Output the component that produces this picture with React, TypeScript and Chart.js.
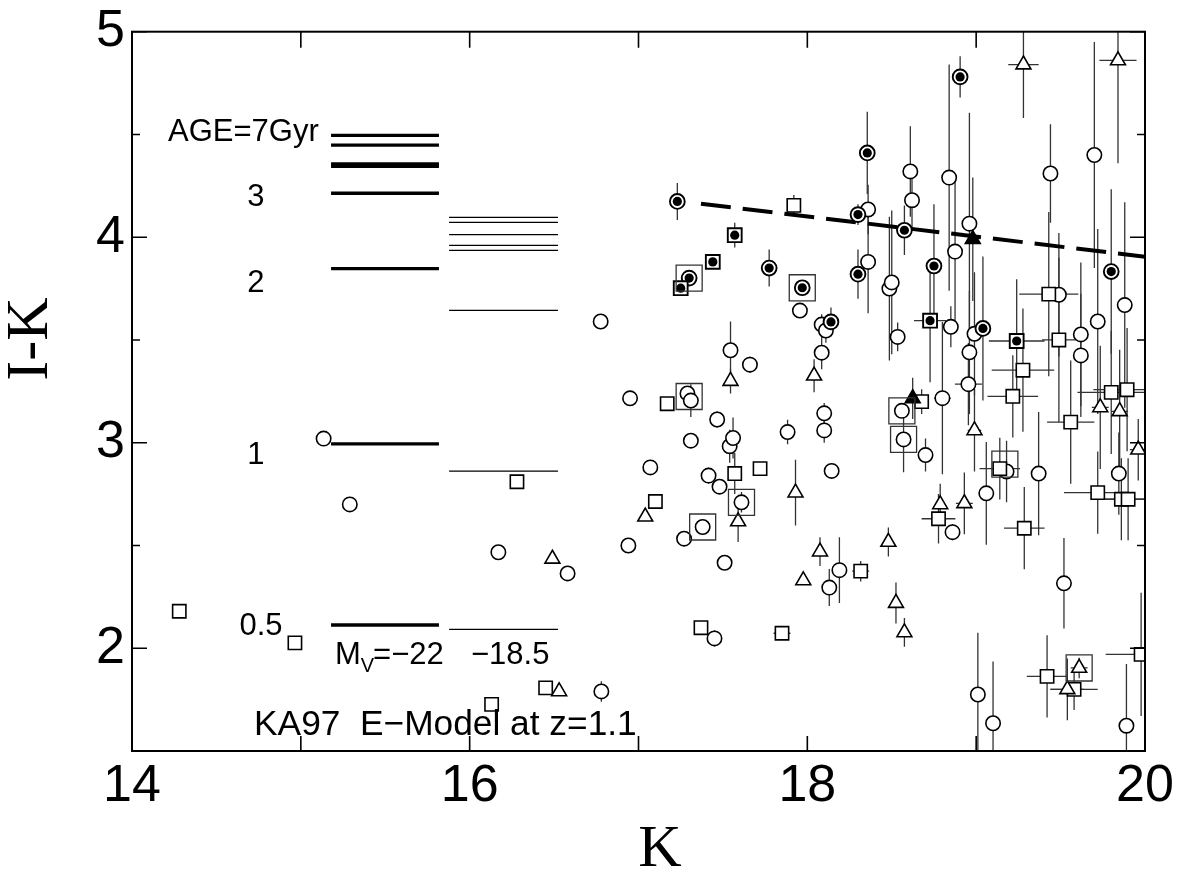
import React, { useEffect, useRef } from "react";
import { Chart, registerables } from "chart.js";

Chart.register(...registerables);

const SANS = '"Liberation Sans", Arial, Helvetica, sans-serif';
const SERIF = '"Liberation Serif", "Times New Roman", Times, serif';

// Each row: [K, I-K, error in K, error in I-K]
const openCircles: number[][] = [
  [15.135, 3.02, 0, 0], [15.29, 2.7, 0, 0], [16.17, 2.467, 0, 0], [16.58, 2.364, 0, 0],
  [16.78, 1.79, 0, 0.05], [16.776, 3.59, 0, 0.02], [16.95, 3.216, 0, 0], [16.94, 2.5, 0, 0],
  [17.07, 2.88, 0, 0], [17.27, 2.533, 0, 0], [17.29, 3.24, 0, 0.03], [17.31, 3.205, 0, 0.08],
  [17.31, 3.01, 0, 0], [17.38, 2.59, 0, 0], [17.415, 2.84, 0, 0.04], [17.45, 2.048, 0, 0.04],
  [17.466, 3.113, 0, 0.04], [17.48, 2.786, 0, 0], [17.51, 2.416, 0, 0], [17.545, 3.45, 0, 0.14],
  [17.54, 2.983, 0, 0.08], [17.56, 3.023, 0, 0.1], [17.61, 2.71, 0, 0.05], [17.66, 3.38, 0, 0.04],
  [17.883, 3.052, 0, 0.06], [17.956, 3.643, 0, 0], [18.085, 3.575, 0, 0.05], [18.11, 3.546, 0, 0.06],
  [18.085, 3.438, 0, 0.08], [18.1, 3.143, 0, 0.05], [18.1, 3.06, 0, 0.06], [18.144, 2.863, 0, 0],
  [18.13, 2.295, 0, 0.09], [18.19, 2.38, 0, 0.16], [18.36, 4.135, 0, 0.12], [18.36, 3.88, 0, 0.25],
  [18.486, 3.75, 0, 0.35], [18.5, 3.78, 0, 0.35], [18.535, 3.515, 0, 0.07], [18.56, 3.155, 0, 0],
  [18.57, 3.016, 0, 0.16], [18.61, 4.32, 0, 0.22], [18.62, 4.18, 0, 0.15], [18.7, 2.94, 0, 0.08],
  [18.8, 3.217, 0.05, 0.37], [18.84, 4.29, 0, 0.55], [18.85, 3.564, 0, 0.1], [18.86, 2.565, 0, 0.04],
  [18.875, 3.93, 0, 0.35], [18.954, 3.285, 0.08, 0.2], [18.96, 3.44, 0, 0.3], [18.96, 4.066, 0, 0.54],
  [18.99, 3.53, 0, 0.3], [19.01, 1.775, 0, 0.3], [19.06, 2.754, 0, 0.25], [19.1, 1.635, 0, 0.3],
  [19.18, 2.86, 0, 0.15], [19.37, 2.85, 0, 0.3], [19.44, 4.31, 0, 0.24], [19.49, 3.72, 0, 0.3],
  [19.52, 2.316, 0, 0.22], [19.62, 3.527, 0, 0.35], [19.62, 3.425, 0, 0.3], [19.7, 4.4, 0, 0.55],
  [19.72, 3.59, 0, 0.45], [19.845, 2.85, 0, 0.2], [19.88, 3.67, 0, 0.5], [19.89, 1.623, 0, 0.3],
];

const dotCircles: number[][] = [
  [17.23, 4.174, 0, 0.09], [17.3, 3.801, 0, 0], [17.774, 3.85, 0, 0.09], [17.97, 3.754, 0, 0],
  [18.14, 3.588, 0, 0.07], [18.3, 4.11, 0, 0.05], [18.3, 3.82, 0, 0.12], [18.355, 4.41, 0, 0.2],
  [18.575, 4.034, 0, 0.12], [18.75, 3.86, 0, 0.3], [18.905, 4.78, 0, 0.1], [19.04, 3.556, 0, 0.35],
  [19.8, 3.833, 0, 0.4],
];

const dotSquares: number[][] = [
  [17.25, 3.752, 0, 0.02], [17.44, 3.88, 0, 0.03], [17.57, 4.01, 0, 0.06],
  [18.727, 3.594, 0.095, 0.3], [19.24, 3.495, 0.165, 0.3],
];

const openSquares: number[][] = [
  [14.28, 2.18, 0, 0], [14.965, 2.026, 0, 0], [16.13, 1.727, 0, 0], [16.28, 2.81, 0, 0],
  [16.45, 1.807, 0, 0], [17.1, 2.714, 0, 0], [17.17, 3.19, 0, 0.03], [17.37, 2.1, 0.04, 0.03],
  [17.57, 2.85, 0, 0.1], [17.72, 2.874, 0.04, 0.03], [17.85, 2.073, 0.05, 0], [17.92, 4.155, 0.03, 0.05],
  [18.316, 2.375, 0.05, 0.05], [18.677, 3.2, 0, 0.06], [18.777, 2.63, 0.1, 0.12], [19.14, 2.874, 0.12, 0.15],
  [19.217, 3.226, 0.15, 0.2], [19.277, 3.353, 0.185, 0.3], [19.285, 2.584, 0.12, 0.2], [19.42, 1.863, 0.12, 0.2],
  [19.43, 3.723, 0.175, 0.4], [19.49, 3.5, 0.1, 0.4], [19.56, 3.1, 0.14, 0.3], [19.58, 1.8, 0.14, 0.1],
  [19.72, 2.757, 0.2, 0.2], [19.8, 3.245, 0.2, 0.3], [19.86, 2.725, 0.15, 0.2], [19.894, 3.258, 0.2, 0.3],
  [19.9, 2.725, 0.15, 0.2], [19.977, 1.97, 0.21, 0.3],
];

const openTriangles: number[][] = [
  [16.49, 2.435, 0, 0], [16.53, 1.79, 0, 0], [17.04, 2.64, 0, 0.02], [17.545, 3.3, 0, 0.06],
  [17.59, 2.617, 0, 0.1], [17.93, 2.757, 0, 0.16], [17.976, 2.33, 0, 0.02], [18.04, 3.326, 0, 0.08],
  [18.075, 2.47, 0, 0.07], [18.48, 2.517, 0, 0.07], [18.525, 2.22, 0, 0.1], [18.575, 2.077, 0, 0.07],
  [18.787, 2.7, 0, 0.1], [18.93, 2.705, 0.05, 0.15], [18.99, 3.06, 0.04, 0.2], [19.28, 4.84, 0.09, 0.26],
  [19.54, 1.8, 0.1, 0.15], [19.61, 1.904, 0.05, 0.05], [19.735, 3.172, 0.05, 0.3], [19.84, 4.86, 0.11, 0.5],
  [19.85, 3.153, 0.05, 0.3], [19.96, 2.966, 0.05, 0.15],
];

const filledTriangles: number[][] = [
  [18.624, 3.216, 0, 0.1], [18.98, 3.99, 0, 0.3],
];

// [K, I-K] of the objects enclosed by a large box
const boxedPoints: number[][] = [
  [17.3, 3.801], [17.97, 3.754], [17.3, 3.225], [17.38, 2.59], [17.61, 2.71],
  [18.56, 3.155], [18.57, 3.016], [19.17, 2.896], [19.61, 1.904],
];

// KA97 model I-K colours (AGE = 7, 6, 5, 4, 3, 2, 1, 0.5 Gyr)
const modelMv22 = [4.496, 4.448, 4.357, 4.345, 4.214, 3.847, 2.994, 2.113];
const modelMv185 = [4.097, 4.072, 4.013, 3.96, 3.936, 3.644, 2.862, 2.092];
const modelMv22K = [15.179, 15.818];
const modelMv185K = [15.878, 16.523];

// dashed sequence line [K, I-K]
const trendLine: number[][] = [[17.37, 4.163], [20, 3.905]];

const xTickLabels = [14, 16, 18, 20];
const yTickLabels = [2, 3, 4, 5];

// in-plot annotations at data coordinates (text baseline)
const annotations = [
  { text: "AGE=7Gyr", k: 14.213, c: 4.469, align: "left", size: 31 },
  { text: "3", k: 14.734, c: 4.152, align: "center", size: 31 },
  { text: "2", k: 14.734, c: 3.734, align: "center", size: 31 },
  { text: "1", k: 14.734, c: 2.897, align: "center", size: 31 },
  { text: "0.5", k: 14.764, c: 2.063, align: "center", size: 31 },
  { text: "\u221218.5", k: 16.008, c: 1.923, align: "left", size: 31 },
  { text: "KA97  E\u2212Model at z=1.1", k: 14.723, c: 1.577, align: "left", size: 35.3 },
];
const mvLabel = { k: 15.202, c: 1.923, main: "M", sub: "V", rest: "=\u221222" };

const pts = (arr: number[][]) => arr.map((p) => ({ x: p[0], y: p[1] }));
const seg = (range: number[], v: number) => [
  { x: range[0], y: v },
  { x: range[1], y: v },
];

const errorBarPlugin = {
  id: "errorBars",
  beforeDatasetsDraw(chart: any) {
    const { ctx, chartArea, scales } = chart;
    const x = scales.x;
    const y = scales.y;
    ctx.save();
    ctx.beginPath();
    ctx.rect(chartArea.left, chartArea.top, chartArea.right - chartArea.left, chartArea.bottom - chartArea.top);
    ctx.clip();
    ctx.strokeStyle = "#333";
    ctx.lineWidth = 1.3;
    [openCircles, dotCircles, openSquares, dotSquares, openTriangles, filledTriangles].forEach((g) =>
      g.forEach(([k, c, ek, ec]) => {
        const px = x.getPixelForValue(k);
        const py = y.getPixelForValue(c);
        ctx.beginPath();
        if (ec > 0) {
          ctx.moveTo(px, y.getPixelForValue(c + ec));
          ctx.lineTo(px, y.getPixelForValue(c - ec));
        }
        if (ek > 0) {
          ctx.moveTo(x.getPixelForValue(k - ek), py);
          ctx.lineTo(x.getPixelForValue(k + ek), py);
        }
        ctx.stroke();
      })
    );
    ctx.restore();
  },
};

const framePlugin = {
  id: "frameAndText",
  afterDatasetsDraw(chart: any) {
    const { ctx, chartArea, scales } = chart;
    const { left, right, top, bottom } = chartArea;
    const x = scales.x;
    const y = scales.y;
    ctx.save();
    // frame
    ctx.strokeStyle = "#000";
    ctx.lineWidth = 2;
    ctx.strokeRect(left, top, right - left, bottom - top);
    // inward ticks on all four sides
    ctx.lineWidth = 1.6;
    ctx.beginPath();
    x.ticks.forEach((t: any) => {
      const px = x.getPixelForValue(t.value);
      ctx.moveTo(px, bottom);
      ctx.lineTo(px, bottom - 15);
      ctx.moveTo(px, top);
      ctx.lineTo(px, top + 16);
    });
    y.ticks.forEach((t: any) => {
      const py = y.getPixelForValue(t.value);
      const len = Number.isInteger(t.value) ? 15 : 8;
      ctx.moveTo(left, py);
      ctx.lineTo(left + len, py);
      ctx.moveTo(right, py);
      ctx.lineTo(right - len, py);
    });
    ctx.stroke();

    // annotations
    ctx.fillStyle = "#000";
    ctx.textBaseline = "alphabetic";
    annotations.forEach((a) => {
      ctx.font = `${a.size}px ${SANS}`;
      ctx.textAlign = a.align as CanvasTextAlign;
      ctx.fillText(a.text, x.getPixelForValue(a.k), y.getPixelForValue(a.c));
    });
    // M_V=-22 with subscript
    let mx = x.getPixelForValue(mvLabel.k);
    const my = y.getPixelForValue(mvLabel.c);
    ctx.textAlign = "left";
    ctx.font = `31px ${SANS}`;
    ctx.fillText(mvLabel.main, mx, my);
    mx += ctx.measureText(mvLabel.main).width;
    ctx.font = `20px ${SANS}`;
    ctx.fillText(mvLabel.sub, mx, my + 8);
    mx += ctx.measureText(mvLabel.sub).width - 1;
    ctx.font = `31px ${SANS}`;
    ctx.fillText(mvLabel.rest, mx, my);

    // axis titles
    ctx.font = `60px ${SERIF}`;
    ctx.textAlign = "center";
    ctx.textBaseline = "alphabetic";
    ctx.fillText("K", 660, 866);
    ctx.translate(31, 339);
    ctx.rotate(-Math.PI / 2);
    ctx.textBaseline = "middle";
    ctx.fillText("I-K", 0, 0);
    ctx.restore();
  },
};

export default function App() {
  const ref = useRef<HTMLCanvasElement>(null);

  useEffect(() => {
    if (!ref.current) return;
    // listed bottom layer first; reversed below because Chart.js paints dataset 0 on top
    const layers: any[] = [
      ...modelMv22.map((v) => ({
        type: "line", data: seg(modelMv22K, v), borderColor: "#000", borderWidth: 3.3,
        pointRadius: 0, showLine: true, fill: false,
      })),
      ...modelMv185.map((v) => ({
        type: "line", data: seg(modelMv185K, v), borderColor: "#000", borderWidth: 1.3,
        pointRadius: 0, showLine: true, fill: false,
      })),
      {
        type: "line", data: pts(trendLine), borderColor: "#000", borderWidth: 4,
        borderDash: [30, 12], pointRadius: 0, showLine: true, fill: false,
      },
      {
        type: "scatter", data: pts(openCircles), pointStyle: "circle", pointRadius: 7.2,
        pointBackgroundColor: "#fff", pointBorderColor: "#000", pointBorderWidth: 1.6,
      },
      {
        type: "scatter", data: pts(openSquares), pointStyle: "rect", pointRadius: 9.4,
        pointBackgroundColor: "#fff", pointBorderColor: "#000", pointBorderWidth: 1.6,
      },
      {
        type: "scatter", data: pts(openTriangles), pointStyle: "triangle", pointRadius: 8.6,
        pointBackgroundColor: "#fff", pointBorderColor: "#000", pointBorderWidth: 1.6,
      },
      {
        type: "scatter", data: pts(filledTriangles), pointStyle: "triangle", pointRadius: 8.6,
        pointBackgroundColor: "#000", pointBorderColor: "#000", pointBorderWidth: 1.6,
      },
      {
        type: "scatter", data: pts(dotCircles), pointStyle: "circle", pointRadius: 7.4,
        pointBackgroundColor: "#fff", pointBorderColor: "#000", pointBorderWidth: 1.9,
      },
      {
        type: "scatter", data: pts(dotCircles), pointStyle: "circle", pointRadius: 4.6,
        pointBackgroundColor: "#000", pointBorderColor: "#000", pointBorderWidth: 0,
      },
      {
        type: "scatter", data: pts(dotSquares), pointStyle: "rect", pointRadius: 9.8,
        pointBackgroundColor: "#fff", pointBorderColor: "#000", pointBorderWidth: 1.9,
      },
      {
        type: "scatter", data: pts(dotSquares), pointStyle: "circle", pointRadius: 4.6,
        pointBackgroundColor: "#000", pointBorderColor: "#000", pointBorderWidth: 0,
      },
      {
        type: "scatter", data: pts(boxedPoints), pointStyle: "rect", pointRadius: 18.4,
        pointBackgroundColor: "rgba(0,0,0,0)", pointBorderColor: "#333", pointBorderWidth: 1.3,
      },
    ];
    const datasets = layers.slice().reverse();

    const chart = new Chart(ref.current, {
      type: "scatter",
      data: { datasets },
      options: {
        responsive: false,
        animation: false,
        devicePixelRatio: 1,
        events: [],
        layout: { padding: { top: 26, right: 40, bottom: 0, left: 0 } },
        plugins: { legend: { display: false }, tooltip: { enabled: false } },
        scales: {
          x: {
            type: "linear", min: 14, max: 20, position: "bottom",
            grid: { display: false, drawTicks: false }, border: { display: false },
            ticks: {
              stepSize: 1, autoSkip: false, maxRotation: 0, padding: 11, color: "#000",
              font: { family: SANS, size: 52, lineHeight: 0.95 },
              callback: (v: any) => (xTickLabels.includes(Number(v)) ? String(v) : ""),
            },
            afterFit: (s: any) => { s.height = 124; },
          },
          y: {
            type: "linear", min: 1.5, max: 5, position: "left",
            grid: { display: false, drawTicks: false }, border: { display: false },
            ticks: {
              stepSize: 0.5, autoSkip: false, padding: 7, color: "#000",
              font: { family: SANS, size: 52, lineHeight: 0.95 },
              callback: (v: any) => (yTickLabels.includes(Number(v)) ? String(v) : ""),
            },
            afterFit: (s: any) => { s.width = 132; },
          },
        },
      } as any,
      plugins: [errorBarPlugin, framePlugin],
    } as any);
    return () => chart.destroy();
  }, []);

  return (
    <div style={{ position: "absolute", left: 0, top: 0, width: 1185, height: 875, background: "#fff" }}>
      <canvas ref={ref} width={1185} height={875} style={{ display: "block", width: 1185, height: 875 }} />
    </div>
  );
}
